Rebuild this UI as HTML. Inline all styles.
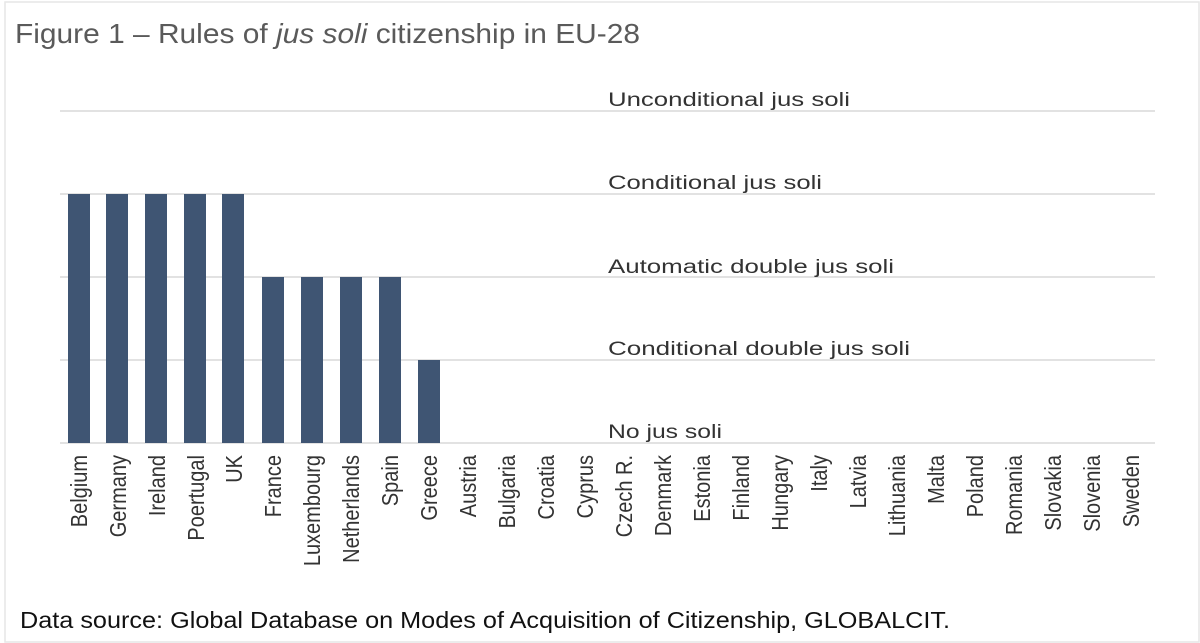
<!DOCTYPE html>
<html><head><meta charset="utf-8"><style>
html,body{margin:0;padding:0;background:#fff;overflow:hidden;}
svg{display:block;}
text{font-family:"Liberation Sans",sans-serif;}
</style></head><body>
<svg width="1200" height="643" viewBox="0 0 1200 643">
<rect x="5" y="2" width="1194" height="640" fill="none" stroke="#e6e6e6" stroke-width="1.5"/>
<text x="15" y="43" font-size="28" fill="#5a5a5a" textLength="625" lengthAdjust="spacingAndGlyphs">Figure 1 – Rules of <tspan font-style="italic">jus soli</tspan> citizenship in EU-28</text>
<g stroke="#d9d9d9" stroke-width="1.5">
<line x1="60" y1="111" x2="1155" y2="111"/>
<line x1="60" y1="194" x2="1155" y2="194"/>
<line x1="60" y1="277" x2="1155" y2="277"/>
<line x1="60" y1="360" x2="1155" y2="360"/>
<line x1="60" y1="443" x2="1155" y2="443"/>
</g>
<g font-size="19" fill="#333">
<text x="608" y="106" textLength="242" lengthAdjust="spacingAndGlyphs">Unconditional jus soli</text>
<text x="608" y="189" textLength="214" lengthAdjust="spacingAndGlyphs">Conditional jus soli</text>
<text x="608" y="273" textLength="286" lengthAdjust="spacingAndGlyphs">Automatic double jus soli</text>
<text x="608" y="355" textLength="302" lengthAdjust="spacingAndGlyphs">Conditional double jus soli</text>
<text x="608" y="438" textLength="114" lengthAdjust="spacingAndGlyphs">No jus soli</text>
</g>
<g fill="#3f5573">
<rect x="68" y="194" width="22" height="249"/>
<rect x="106" y="194" width="22" height="249"/>
<rect x="145" y="194" width="22" height="249"/>
<rect x="184" y="194" width="22" height="249"/>
<rect x="222" y="194" width="22" height="249"/>
<rect x="262" y="277" width="22" height="166"/>
<rect x="301" y="277" width="22" height="166"/>
<rect x="340" y="277" width="22" height="166"/>
<rect x="379" y="277" width="22" height="166"/>
<rect x="418" y="360" width="22" height="83"/>
</g>
<g font-size="23" fill="#333" text-anchor="end">
<text transform="translate(87,455) rotate(-90) scale(0.87,1)">Belgium</text>
<text transform="translate(126,455) rotate(-90) scale(0.87,1)">Germany</text>
<text transform="translate(165,455) rotate(-90) scale(0.87,1)">Ireland</text>
<text transform="translate(204,455) rotate(-90) scale(0.87,1)">Poertugal</text>
<text transform="translate(242,455) rotate(-90) scale(0.87,1)">UK</text>
<text transform="translate(281,455) rotate(-90) scale(0.87,1)">France</text>
<text transform="translate(320,455) rotate(-90) scale(0.87,1)">Luxembourg</text>
<text transform="translate(359,455) rotate(-90) scale(0.87,1)">Netherlands</text>
<text transform="translate(398,455) rotate(-90) scale(0.87,1)">Spain</text>
<text transform="translate(437,455) rotate(-90) scale(0.87,1)">Greece</text>
<text transform="translate(476,455) rotate(-90) scale(0.87,1)">Austria</text>
<text transform="translate(515,455) rotate(-90) scale(0.87,1)">Bulgaria</text>
<text transform="translate(554,455) rotate(-90) scale(0.87,1)">Croatia</text>
<text transform="translate(593,455) rotate(-90) scale(0.87,1)">Cyprus</text>
<text transform="translate(632,455) rotate(-90) scale(0.87,1)">Czech R.</text>
<text transform="translate(671,455) rotate(-90) scale(0.87,1)">Denmark</text>
<text transform="translate(710,455) rotate(-90) scale(0.87,1)">Estonia</text>
<text transform="translate(749,455) rotate(-90) scale(0.87,1)">Finland</text>
<text transform="translate(788,455) rotate(-90) scale(0.87,1)">Hungary</text>
<text transform="translate(827,455) rotate(-90) scale(0.87,1)">Italy</text>
<text transform="translate(866,455) rotate(-90) scale(0.87,1)">Latvia</text>
<text transform="translate(905,455) rotate(-90) scale(0.87,1)">Lithuania</text>
<text transform="translate(944,455) rotate(-90) scale(0.87,1)">Malta</text>
<text transform="translate(983,455) rotate(-90) scale(0.87,1)">Poland</text>
<text transform="translate(1022,455) rotate(-90) scale(0.87,1)">Romania</text>
<text transform="translate(1061,455) rotate(-90) scale(0.87,1)">Slovakia</text>
<text transform="translate(1100,455) rotate(-90) scale(0.87,1)">Slovenia</text>
<text transform="translate(1139,455) rotate(-90) scale(0.87,1)">Sweden</text>
</g>
<text x="20" y="628" font-size="23" fill="#111" textLength="930" lengthAdjust="spacingAndGlyphs">Data source: Global Database on Modes of Acquisition of Citizenship, GLOBALCIT.</text>
</svg>
</body></html>
